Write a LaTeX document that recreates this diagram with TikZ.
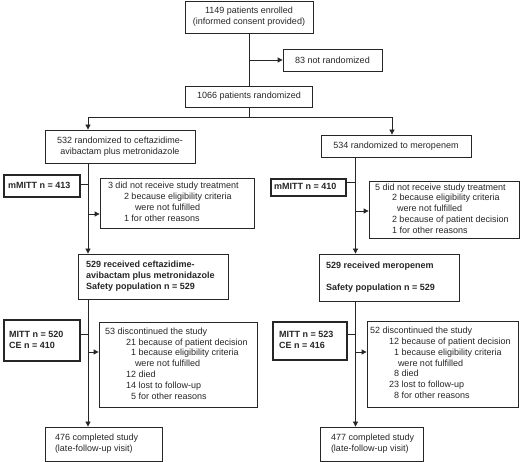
\documentclass[tikz,border=0pt]{standalone}
\usepackage{fontspec}
\setmainfont{Liberation Sans}
\usetikzlibrary{arrows.meta}
\newcommand\lbx[2]{\makebox[#1][l]{\begin{tabular}{@{}l@{}}#2\end{tabular}}}
\begin{document}
\begin{tikzpicture}[x=1pt,y=-1pt,
  every node/.style={font=\fontsize{9}{10.8}\selectfont, text=black!85},
  box/.style={draw=black!85, line width=0.8pt, inner sep=0pt, rectangle, align=center},
  heavybox/.style={draw=black!85, line width=2.4pt, inner sep=0pt, rectangle, font=\fontsize{9}{10.8}\selectfont\bfseries},
  arr/.style={draw=black!85, line width=0.8pt, -{Triangle[length=5pt,width=5pt]}},
  ln/.style={draw=black!85, line width=0.8pt}]
\useasboundingbox (0,0) rectangle (520,462);

% top
\node[box, minimum width=128, minimum height=32] (enr) at (249,17) {1149 patients enrolled\\(informed consent provided)};
\node[box, minimum width=99, minimum height=22] (notr) at (332.5,60) {83 not randomized};
\node[box, minimum width=127, minimum height=21] (rand) at (249,96.5) {1066 patients randomized};

% arms
\node[box, minimum width=150, minimum height=33] (L1) at (120,146.5) {532 randomized to ceftazidime-\\avibactam plus metronidazole};
\node[box, minimum width=150, minimum height=22] (R1) at (396,146) {534 randomized to meropenem};

% left middle
\node[heavybox, minimum width=75.6, minimum height=21.6] (mL) at (42,186) {\lbx{67.6pt}{mMITT n = 413}};
\node[box, minimum width=154, minimum height=50] (dL) at (177,203) {\lbx{138pt}{3 did not receive study treatment\\
\hspace*{16pt}2 because eligibility criteria\\
\hspace*{27pt}were not fulfilled\\
\hspace*{16pt}1 for other reasons}};
\node[box, minimum width=150, minimum height=45, font=\fontsize{9}{10.8}\selectfont\bfseries] (sL) at (153,276.5) {\lbx{134pt}{529 received ceftazidime-\\avibactam plus metronidazole\\Safety population n = 529}};

% right middle
\node[heavybox, minimum width=74.6, minimum height=16.6] (mR) at (308.5,187.5) {\lbx{68.6pt}{mMITT n = 410}};
\node[box, minimum width=150, minimum height=57] (dR) at (444,209.5) {\lbx{138pt}{5 did not receive study treatment\\
\hspace*{17pt}2 because eligibility criteria\\
\hspace*{22pt}were not fulfilled\\
\hspace*{17pt}2 because of patient decision\\
\hspace*{17pt}1 for other reasons}};
\node[box, minimum width=140, minimum height=47, font=\fontsize{9}{10.8}\selectfont\bfseries] (sR) at (389,277.5) {\lbx{126pt}{529 received meropenem\\ \\Safety population n = 529}};

% left bottom
\node[heavybox, minimum width=75.6, minimum height=40.6] (MIL) at (42,340.5) {\lbx{65.6pt}{MITT n = 520\\CE n = 410}};
\node[box, minimum width=158, minimum height=85] (dL2) at (178,364.5) {\lbx{146pt}{53 discontinued the study\\
\hspace*{21pt}21 because of patient decision\\
\hspace*{21pt}\phantom{0}1 because eligibility criteria\\
\hspace*{30pt}were not fulfilled\\
\hspace*{21pt}12 died\\
\hspace*{21pt}14 lost to follow-up\\
\hspace*{21pt}\phantom{0}5 for other reasons}};
\node[box, minimum width=117, minimum height=34] (cL) at (103.5,444) {\lbx{97pt}{476 completed study\\(late-follow-up visit)}};

% right bottom
\node[heavybox, minimum width=73.6, minimum height=37.6] (MIR) at (310,341) {\lbx{61.6pt}{MITT n = 523\\CE n = 416}};
\node[box, minimum width=151, minimum height=86] (dR2) at (442.5,364) {\lbx{145pt}{52 discontinued the study\\
\hspace*{19pt}12 because of patient decision\\
\hspace*{19pt}\phantom{0}1 because eligibility criteria\\
\hspace*{28pt}were not fulfilled\\
\hspace*{19pt}\phantom{0}8 died\\
\hspace*{19pt}23 lost to follow-up\\
\hspace*{19pt}\phantom{0}8 for other reasons}};
\node[box, minimum width=103, minimum height=34] (cR) at (371.5,444) {\lbx{81pt}{477 completed study\\(late-follow-up visit)}};

% helper coordinates
\coordinate (xL) at (88,0);
\coordinate (xR) at (355.5,0);
\coordinate (xRa) at (392,0);
\coordinate (yB) at (0,117);
\coordinate (yA1) at (0,214);
\coordinate (yA2) at (0,211);
\coordinate (yM1) at (0,184);
\coordinate (yM2) at (0,182);
\coordinate (yM3) at (0,334);
\coordinate (yA3) at (0,352);

% connectors
\draw[ln] (enr.south) -- (enr.south |- rand.north);
\draw[arr] (enr.south |- notr.west) -- (notr.west);
\draw[ln] (rand.south) -- (rand.south |- yB);
\draw[arr] (rand.south |- yB) -| (xL |- L1.north);
\draw[arr] (rand.south |- yB) -| (xRa |- R1.north);

\draw[arr] (xL |- L1.south) -- (xL |- sL.north);
\draw[ln] (mL.east |- yM1) -- (xL |- yM1);
\draw[arr] (xL |- yA1) -- (dL.west |- yA1);

\draw[arr] (xR |- R1.south) -- (xR |- sR.north);
\draw[ln] (mR.east |- yM2) -- (xR |- yM2);
\draw[arr] (xR |- yA2) -- (dR.west |- yA2);

\draw[arr] (xL |- sL.south) -- (xL |- cL.north);
\draw[ln] (MIL.east |- yM3) -- (xL |- yM3);
\draw[arr] (xL |- yA3) -- (dL2.west |- yA3);

\draw[arr] (xR |- sR.south) -- (xR |- cR.north);
\draw[ln] (MIR.east |- yM3) -- (xR |- yM3);
\draw[arr] (xR |- yA3) -- (dR2.west |- yA3);
\end{tikzpicture}
\end{document}
